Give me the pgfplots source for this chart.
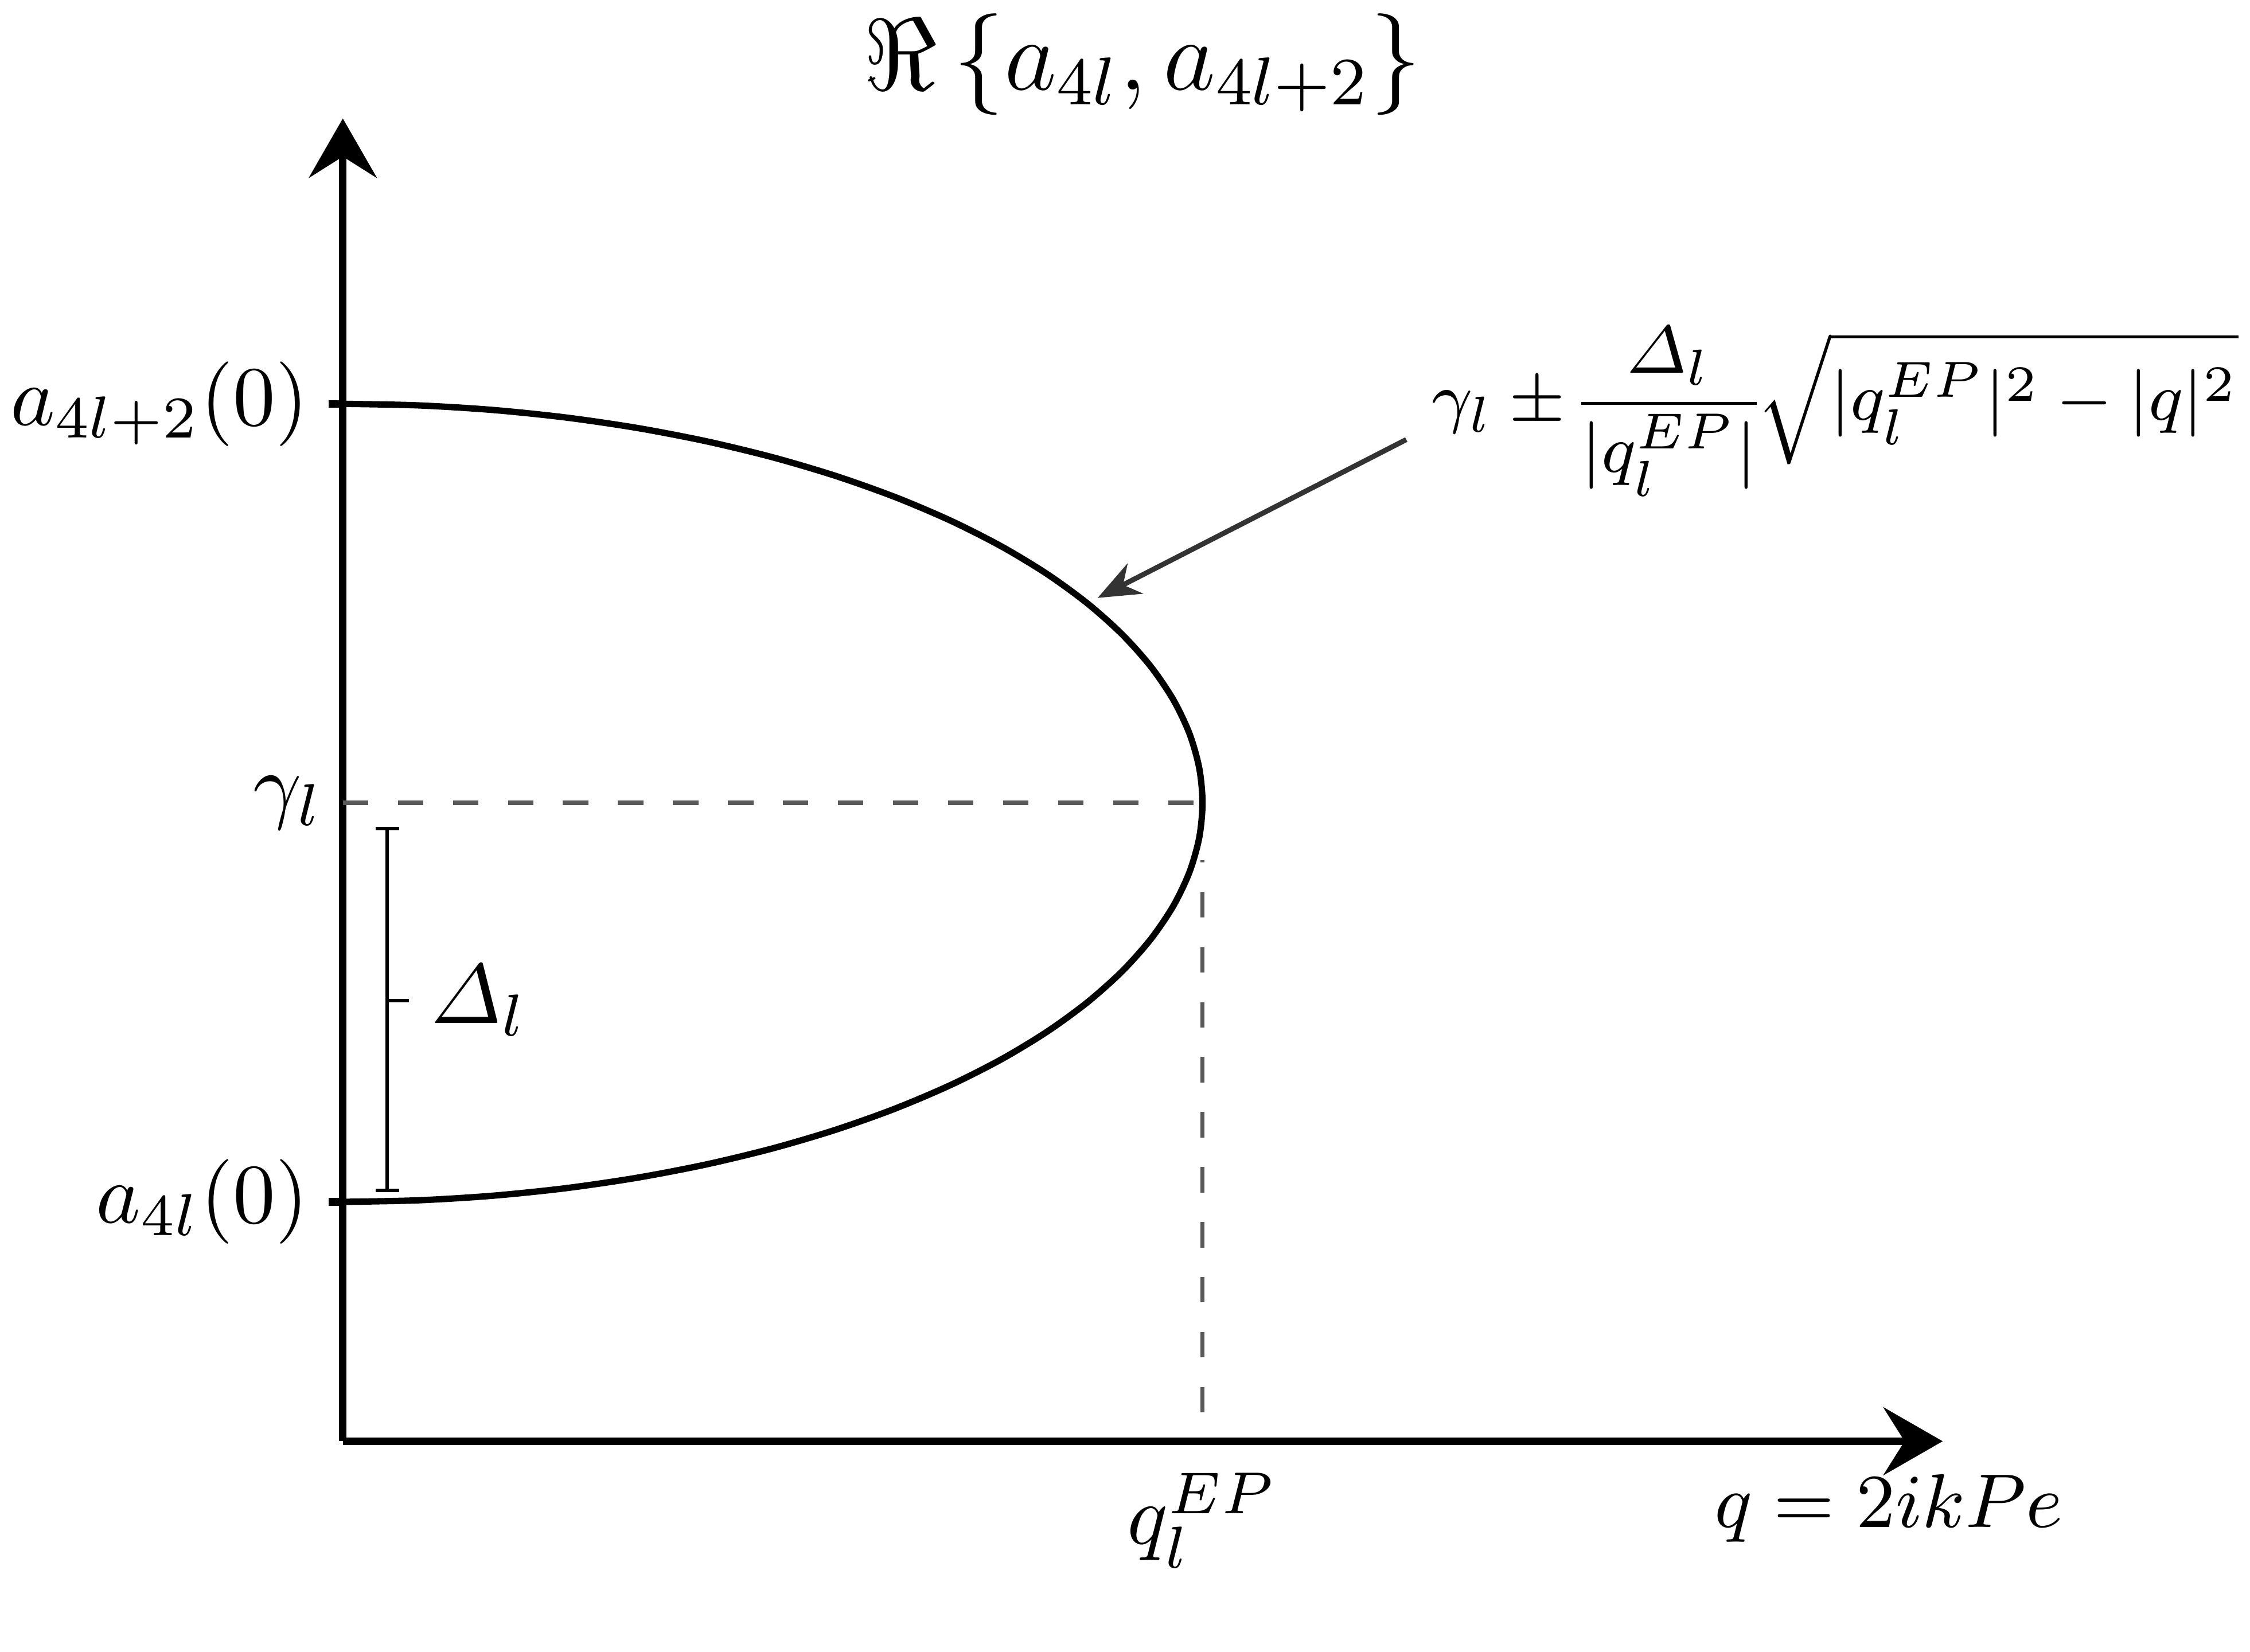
\documentclass[border=0pt]{standalone}
\usepackage{amsmath}
\usepackage{amssymb}
\usepackage{pgfplots}
\pgfplotsset{compat=1.18}
\usetikzlibrary{arrows.meta}

\begin{document}
\begin{tikzpicture}
  \begin{axis}[
      scale only axis,
      width=189pt,
      height=156.3pt,
      xmin=0, xmax=1.861,
      ymin=0, ymax=2.072,
      axis lines=left,
      axis line style={line width=0.9pt,
        -{Stealth[length=7pt,width=8pt,inset=2.5pt]}},
      clip=false,
      xtick={1},
      xticklabels={$q_l^{EP}$},
      xtick style={draw=none},
      xticklabel style={yshift=1.5pt},
      ytick={0.375,1.625},
      yticklabels={$a_{4l}(0)$,$a_{4l+2}(0)$},
      ytick style={line width=0.9pt, black},
      yticklabel style={xshift=1.2pt},
      tick align=outside,
      major tick length=1.7pt,
      extra y ticks={1},
      extra y tick labels={$\gamma_l$},
      extra y tick style={major tick length=0pt},
    ]

    % branch a_{4l} (lower) and a_{4l+2} (upper), joined at the exceptional point
    \addplot[black, line width=0.75pt, smooth] coordinates {
      (0,0.375) (0.08716,0.37738) (0.17365,0.38450) (0.25882,0.39629)
      (0.34202,0.41269) (0.42262,0.43356) (0.5,0.45873) (0.57358,0.48803)
      (0.64279,0.52122) (0.70711,0.55806) (0.76604,0.59826) (0.81915,0.64151)
      (0.86603,0.6875) (0.90631,0.73586) (0.93969,0.78624) (0.96593,0.83824)
      (0.98481,0.89147) (0.99619,0.94553) (1,1)
      (0.99619,1.05447) (0.98481,1.10853) (0.96593,1.16176) (0.93969,1.21376)
      (0.90631,1.26414) (0.86603,1.3125) (0.81915,1.35849) (0.76604,1.40174)
      (0.70711,1.44194) (0.64279,1.47878) (0.57358,1.51197) (0.5,1.54127)
      (0.42262,1.56644) (0.34202,1.58731) (0.25882,1.60371) (0.17365,1.61550)
      (0.08716,1.62262) (0,1.625)
    };

    % guides through the exceptional point
    \addplot[black!65, line width=0.5pt, dash pattern=on 3pt off 3.5pt]
      coordinates {(0,1) (1,1)};
    \addplot[black!65, line width=0.5pt, dash pattern=on 3pt off 3.5pt]
      coordinates {(1,0.045) (1,0.91)};

    % Delta_l bracket
    \addplot[black, line width=0.4pt, mark=none,
      error bars/.cd, y dir=both, y explicit,
      error mark=|, error mark options={black, line width=0.4pt, mark size=1.4pt}]
      coordinates {(0.0518,0.6765) +- (0,0.2835)};
    \addplot[black, line width=0.4pt] coordinates {(0.0518,0.69) (0.0768,0.69)};
    \node[anchor=west] at (axis cs:0.068,0.69) {$\varDelta_l$};

    % annotation of the curve
    \draw[black!80, line width=0.6pt, -{Stealth[length=5pt,width=4pt]}]
      (axis cs:1.237,1.569) -- (axis cs:0.878,1.321);
    \node[anchor=east, inner sep=0pt, font=\fontsize{8.5}{11}\selectfont]
      at (axis cs:2.207,1.613)
      {\nulldelimiterspace=0pt$\gamma_l \pm \dfrac{\varDelta_l}{|q_l^{EP}|}\sqrt{|q_l^{EP}|^2-|q|^2}$};

    \node[font=\fontsize{9}{11}\selectfont] at (axis cs:1.798,-0.105) {$q = 2ikPe$};
    \node[font=\large] at (axis cs:0.93,2.157) {$\Re\left\{a_{4l},a_{4l+2}\right\}$};
  \end{axis}
  \pgfresetboundingbox
  \path[use as bounding box] (-40.5pt,-24.9pt) rectangle (225.3pt,170.3pt);
\end{tikzpicture}
\end{document}
